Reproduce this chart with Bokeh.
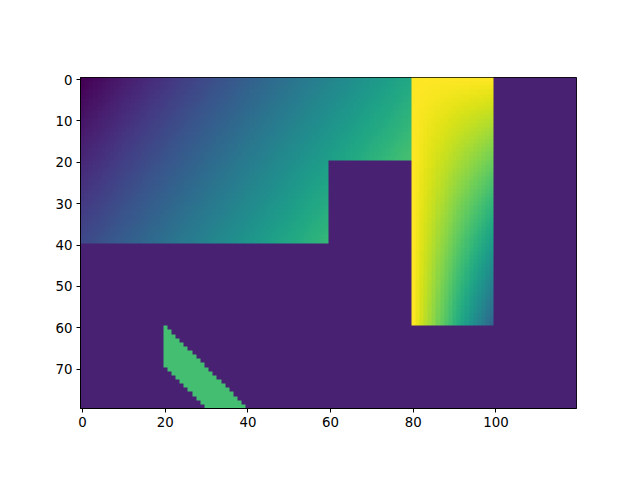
import numpy as np
from bokeh.embed import file_html
from bokeh.models import FixedTicker, LinearColorMapper, Range1d
from bokeh.palettes import Viridis256
from bokeh.plotting import figure
from bokeh.resources import INLINE

n_cols = 120
n_rows = 80
background = 0.09
x_ticks = [0, 20, 40, 60, 80, 100]
y_ticks = [0, 10, 20, 30, 40, 50, 60, 70]

# gradient block: values read along its top edge (columns 0-79) and the rise read down its left edge (rows 0-39)
gradient_top = [
    .000, .008, .015, .023, .030, .038, .046, .053, .061, .068,
    .076, .084, .091, .099, .106, .114, .122, .129, .137, .144,
    .152, .160, .167, .175, .182, .190, .198, .205, .213, .220,
    .228, .236, .243, .251, .258, .266, .274, .281, .289, .296,
    .304, .312, .319, .327, .334, .342, .350, .357, .365, .372,
    .380, .388, .395, .403, .410, .418, .426, .433, .441, .448,
    .456, .464, .471, .479, .486, .494, .502, .509, .517, .524,
    .532, .540, .547, .555, .562, .570, .578, .585, .593, .600,
]
gradient_left = [
    .000, .006, .011, .017, .022, .028, .034, .039, .045, .050,
    .056, .062, .067, .073, .078, .084, .090, .095, .101, .106,
    .112, .118, .123, .129, .134, .140, .146, .151, .157, .162,
    .168, .174, .179, .185, .190, .196, .202, .207, .213, .218,
]
# columns each row of the gradient block reaches
gradient_row_ends = [(0, 20, 80), (20, 40, 60)]

# bright block, columns 80-99, rows 0-59: share of the fall per column and the fall at its right edge per row
bright_share = [0, .05, .11, .16, .21, .26, .32, .37, .42, .47, .53, .58, .63, .68, .74, .79, .84, .89, .95, 1.0]
bright_fall = [
    .000, .011, .022, .034, .045, .056, .067, .078, .090, .101,
    .112, .123, .134, .146, .157, .168, .179, .190, .202, .213,
    .224, .235, .246, .258, .269, .280, .291, .302, .314, .325,
    .336, .347, .358, .370, .381, .392, .403, .414, .426, .437,
    .448, .459, .470, .482, .493, .504, .515, .526, .538, .549,
    .560, .571, .582, .594, .605, .616, .627, .638, .650, .661,
]

# parallelogram: one entry per row 60-79
band_rows = [60, 61, 62, 63, 64, 65, 66, 67, 68, 69, 70, 71, 72, 73, 74, 75, 76, 77, 78, 79]
band_first = [20, 20, 20, 20, 20, 20, 20, 20, 20, 20, 21, 22, 23, 24, 25, 26, 27, 28, 29, 30]
band_last = [20, 21, 22, 23, 24, 25, 26, 27, 28, 29, 30, 31, 32, 33, 34, 35, 36, 37, 38, 39]
band_value = 0.70

grid = np.full((n_rows, n_cols), background)
for r0, r1, c1 in gradient_row_ends:
    for r in range(r0, r1):
        for c in range(c1):
            grid[r, c] = gradient_top[c] + gradient_left[r]
for r, fall in enumerate(bright_fall):
    for j, share in enumerate(bright_share):
        grid[r, 80 + j] = 1.0 - share * fall
for r, a, b in zip(band_rows, band_first, band_last):
    grid[r, a:b + 1] = band_value

p = figure(
    width=624, height=464, output_backend="svg", toolbar_location=None,
    x_range=Range1d(-0.5, n_cols - 0.5), y_range=Range1d(n_rows - 0.5, -0.5),
    min_border_left=80, min_border_right=48, min_border_top=77, min_border_bottom=56,
)
mapper = LinearColorMapper(palette=Viridis256, low=0, high=1)
p.image(image=[grid.astype(np.float32).copy()], x=-0.5, y=-0.5, dw=n_cols, dh=n_rows, color_mapper=mapper)

p.grid.visible = False
p.xaxis.ticker = FixedTicker(ticks=x_ticks)
p.yaxis.ticker = FixedTicker(ticks=y_ticks)
for ax in (p.xaxis[0], p.yaxis[0]):
    ax.minor_tick_line_color = None
    ax.major_tick_in = 0
    ax.major_tick_out = 4
    ax.major_tick_line_color = "black"
    ax.axis_line_color = "black"
    ax.major_label_text_font = "DejaVu Sans"
    ax.major_label_text_font_size = "13.33px"
    ax.major_label_text_color = "black"
    ax.major_label_standoff = 4
p.outline_line_color = "black"
p.outline_line_alpha = 1
p.outline_line_width = 1
p.background_fill_color = "white"
p.border_fill_color = "white"

open("out.html", "w").write(file_html(p, INLINE))
